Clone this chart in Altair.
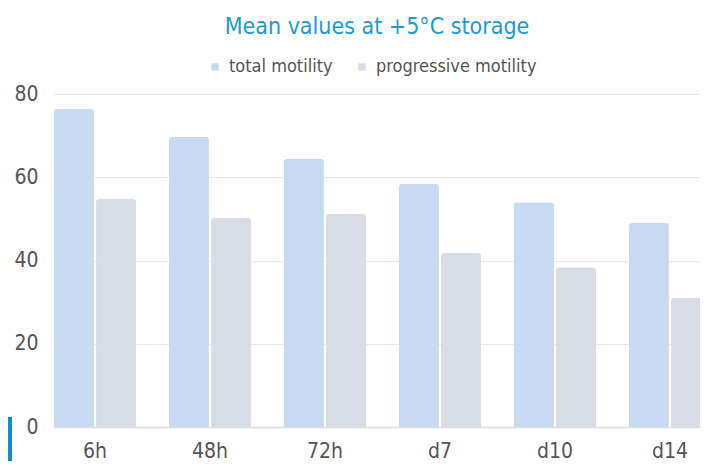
import altair as alt
import pandas as pd

categories = ["6h", "48h", "72h", "d7", "d10", "d14"]
total_motility = [76.4, 69.7, 64.4, 58.4, 54.0, 49.0]
progressive_motility = [54.8, 50.2, 51.2, 41.8, 38.4, 31.0]
series = ["total motility", "progressive motility"]
colors = ["#c8daf1", "#d8dde5"]

rows = []
for i, c in enumerate(categories):
    rows.append({"cat": c, "series": series[0], "value": total_motility[i]})
    rows.append({"cat": c, "series": series[1], "value": progressive_motility[i]})
df = pd.DataFrame(rows)

FONT = "DejaVu Sans Condensed, Roboto, Liberation Sans, sans-serif"

bars = alt.Chart(df).mark_bar(
    cornerRadiusTopLeft=3, cornerRadiusTopRight=3
).encode(
    x=alt.X("cat:N", sort=categories,
            scale=alt.Scale(paddingInner=0.287, paddingOuter=0, range=[0, 657]),
            axis=alt.Axis(title=None, labelAngle=0, labelFontSize=21, labelFont=FONT,
                          labelColor="#555555", labelPadding=13, ticks=False,
                          domainColor="#dcdcdc", domainWidth=1.5)),
    xOffset=alt.XOffset("series:N", sort=series,
                        scale=alt.Scale(paddingInner=0.05)),
    y=alt.Y("value:Q", scale=alt.Scale(domain=[0, 80]),
            axis=alt.Axis(title=None, values=[0, 20, 40, 60, 80], labelFontSize=21,
                          labelFont=FONT, labelColor="#555555", labelPadding=16,
                          ticks=False, domain=False, gridColor="#e8e8e8")),
    color=alt.Color("series:N", sort=series,
                    scale=alt.Scale(domain=series, range=colors),
                    legend=alt.Legend(title=None, orient="none", legendX=152, legendY=-36,
                                      direction="horizontal", symbolType="square",
                                      symbolSize=55, labelFontSize=18, labelFont=FONT,
                                      labelColor="#555555", columnPadding=20,
                                      labelOffset=5, labelLimit=400)),
)

deco = alt.Chart(pd.DataFrame({"k": [1]})).mark_rect(color="#0a8fd0").encode(
    x=alt.value(-46), x2=alt.value(-42), y=alt.value(323), y2=alt.value(400)
)

chart = alt.layer(bars, deco).properties(
    width=646, height=333,
    title=alt.Title("Mean values at +5°C storage", fontSize=23, font=FONT,
                    fontWeight="normal", color="#1b9ad6", anchor="middle", offset=19),
    autosize=alt.AutoSizeParams(type="none"),
    padding={"left": 46, "top": 86, "right": 0, "bottom": 34},
).configure_view(stroke=None)

chart.save("out.html", embed_options={"renderer": "svg", "actions": False})
